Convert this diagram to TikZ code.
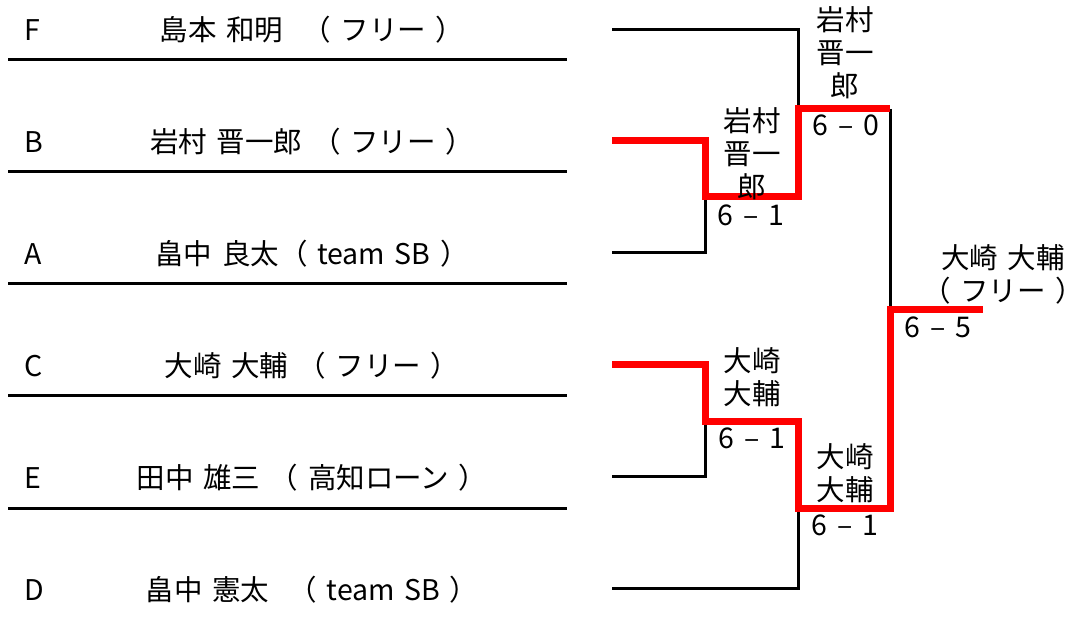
\documentclass[tikz,border=0pt]{standalone}
\usepackage{fontspec}
\setmainfont{Noto Sans CJK JP}[WordSpace=1.5]

\begin{document}
\begin{tikzpicture}[x=1pt, y=-1pt,
			font=\fontsize{28.5}{33}\selectfont,
			myseed/.style={anchor=west, inner sep=0pt},
			myname/.style={inner sep=0pt},
			mylabel/.style={inner sep=0pt, align=center},
			myline/.style={line width=3pt},
			mywin/.style={line width=7pt, color=red}
		]
		\useasboundingbox (0,0) rectangle (1074,617);

		% entries
		\node[myseed] (sF) at (24,30) {F};
		\node[myname] (nF) at (312,30) {島本 和明~ （ フリー ）};
		\draw[myline] (8,60) -- (567,60);

		\node[myseed] (sB) at (24,142) {B};
		\node[myname] (nB) at (312,142) {岩村 晋一郎 （ フリー ）};
		\draw[myline] (8,172) -- (567,172);

		\node[myseed] (sA) at (24,254) {A};
		\node[myname] (nA) at (312,254) {畠中 良太（ team SB ）};
		\draw[myline] (8,284) -- (567,284);

		\node[myseed] (sC) at (24,366) {C};
		\node[myname] (nC) at (312,366) {大崎 大輔 （ フリー ）};
		\draw[myline] (8,396) -- (567,396);

		\node[myseed] (sE) at (24,478) {E};
		\node[myname] (nE) at (312,478) {田中 雄三 （ 高知ローン ）};
		\draw[myline] (8,508) -- (567,508);

		\node[myseed] (sD) at (24,590) {D};
		\node[myname] (nD) at (312,590) {畠中 憲太~ （ team SB ）};

		% bracket points
		\coordinate (eF) at (612,30);
		\coordinate (eB) at (612,141);
		\coordinate (eA) at (612,253);
		\coordinate (eC) at (612,365);
		\coordinate (eE) at (612,476);
		\coordinate (eD) at (612,588);
		\coordinate (q1) at (705,197);
		\coordinate (q2) at (705,422);
		\coordinate (s1) at (798,109);
		\coordinate (s2) at (798,508);
		\coordinate (f) at (890,310);
		\coordinate (win) at (983,310);

		\draw[myline] (eF) -| (s1);
		\draw[myline] (eA) -| (q1);
		\draw[myline] (eE) -| (q2);
		\draw[myline] (eD) -| (s2);
		\draw[myline] (s1 -| f) -- (f);

		\draw[mywin] (eB) -| (q1) -| (s1) -- (s1 -| f);
		\draw[mywin] (eC) -| (q2) -| (s2) -| (f) -- (win);

		% results
		\node[mylabel] (wq1) at (752,153.5) {岩村\\晋一\\郎};
		\node[mylabel] (rq1) at (751,215) {6 – 1};
		\node[mylabel] (ws1) at (845,52.5) {岩村\\晋一\\郎};
		\node[mylabel] (rs1) at (846,125) {6 – 0};
		\node[mylabel] (wq2) at (752,377.5) {大崎\\大輔};
		\node[mylabel] (rq2) at (752,438) {6 – 1};
		\node[mylabel] (ws2) at (845,473.5) {大崎\\大輔};
		\node[mylabel] (rs2) at (845,525) {6 – 1};
		\node[mylabel] (wf) at (1003,274.5) {大崎 大輔\\\kern-.45em（ フリー ）\kern-.45em};
		\node[mylabel] (rf) at (938,327) {6 – 5};

	\end{tikzpicture}
\end{document}
